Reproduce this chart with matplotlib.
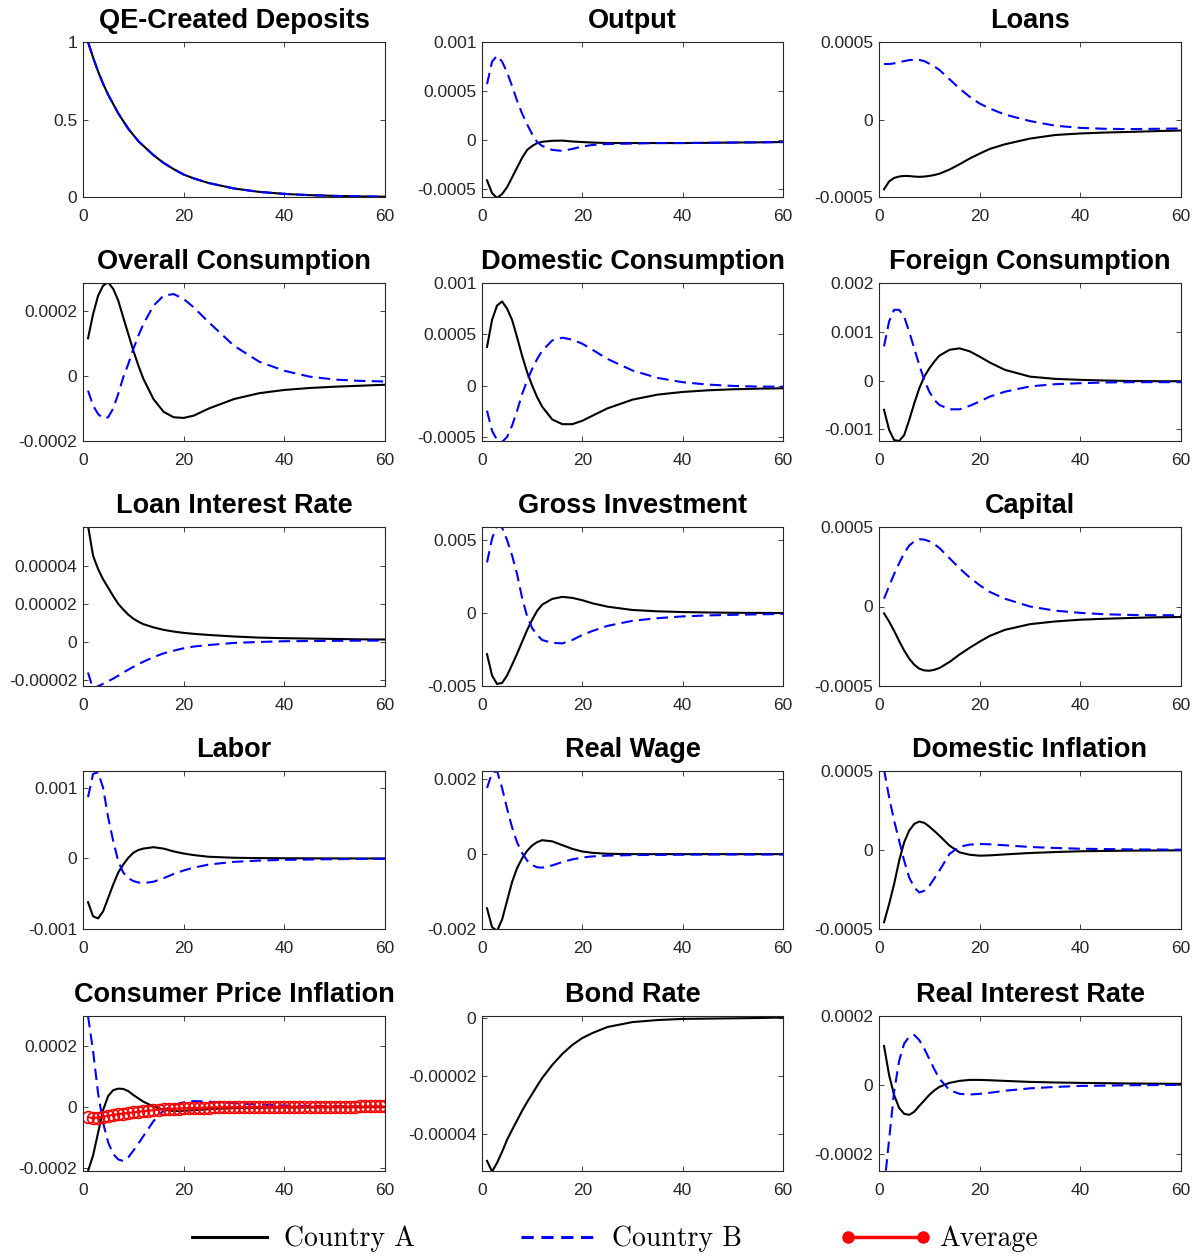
import numpy as np
import matplotlib
matplotlib.use("Agg")
import matplotlib.pyplot as plt
from matplotlib.lines import Line2D

plt.rcParams['font.family'] = ['Liberation Sans', 'DejaVu Sans']

t = [1, 2, 3, 4, 5, 6, 7, 8, 9, 10, 11, 12, 14, 16, 18, 20, 22, 25, 30, 35, 40, 45, 50, 55, 60]

qe_dep = [1.0, 0.90, 0.81, 0.73, 0.66, 0.60, 0.54, 0.49, 0.44, 0.40, 0.36, 0.33, 0.27, 0.22,
          0.18, 0.145, 0.12, 0.09, 0.055, 0.033, 0.02, 0.012, 0.007, 0.004, 0.002]

output_a = [-4.1e-4, -5.4e-4, -5.9e-4, -5.5e-4, -4.8e-4, -3.8e-4, -2.8e-4, -1.8e-4, -1.0e-4, -6e-5,
            -3e-5, -1.7e-5, -7e-6, -5e-6, -1.4e-5, -2e-5, -2.5e-5, -3e-5, -3e-5, -3e-5, -3e-5,
            -2.8e-5, -2.5e-5, -2.3e-5, -2e-5]
output_b = [5.7e-4, 8.0e-4, 8.6e-4, 8.0e-4, 6.9e-4, 5.5e-4, 4.0e-4, 2.7e-4, 1.6e-4, 6e-5, -2e-5,
            -6e-5, -1.0e-4, -1.1e-4, -9e-5, -6.5e-5, -5e-5, -4e-5, -3.5e-5, -3e-5, -3e-5, -2.8e-5,
            -2.5e-5, -2.3e-5, -2e-5]

loans_a = [-4.5e-4, -4.0e-4, -3.77e-4, -3.68e-4, -3.64e-4, -3.65e-4, -3.68e-4, -3.7e-4, -3.68e-4,
           -3.64e-4, -3.58e-4, -3.5e-4, -3.23e-4, -2.89e-4, -2.52e-4, -2.2e-4, -1.9e-4, -1.6e-4,
           -1.23e-4, -1.0e-4, -9e-5, -8.4e-5, -8e-5, -7.5e-5, -7.1e-5]
loans_b = [3.58e-4, 3.58e-4, 3.62e-4, 3.7e-4, 3.77e-4, 3.83e-4, 3.86e-4, 3.84e-4, 3.77e-4, 3.6e-4,
           3.42e-4, 3.2e-4, 2.6e-4, 2.0e-4, 1.47e-4, 1.03e-4, 7.1e-5, 3.2e-5, -1e-5, -4e-5,
           -5.4e-5, -6e-5, -6.2e-5, -6e-5, -5.8e-5]

cons_a = [1.16e-4, 1.9e-4, 2.47e-4, 2.78e-4, 2.88e-4, 2.68e-4, 2.32e-4, 1.8e-4, 1.29e-4, 7.8e-5,
          3.2e-5, -9e-6, -7.1e-5, -1.1e-4, -1.27e-4, -1.29e-4, -1.22e-4, -1.0e-4, -7.1e-5,
          -5.3e-5, -4.3e-5, -3.7e-5, -3.3e-5, -3e-5, -2.7e-5]
cons_b = [-4.5e-5, -9.1e-5, -1.17e-4, -1.3e-4, -1.27e-4, -1.0e-4, -5.5e-5, -4e-6, 3.7e-5, 8.3e-5,
          1.24e-4, 1.6e-4, 2.16e-4, 2.47e-4, 2.52e-4, 2.37e-4, 2.11e-4, 1.65e-4, 9.3e-5, 4.4e-5,
          1.6e-5, -2e-6, -1.1e-5, -1.5e-5, -1.7e-5]

dcons_a = [3.76e-4, 6.4e-4, 7.8e-4, 8.2e-4, 7.5e-4, 6.4e-4, 4.7e-4, 2.9e-4, 1.3e-4, 0.0, -1.14e-4,
           -2.06e-4, -3.3e-4, -3.76e-4, -3.76e-4, -3.43e-4, -2.94e-4, -2.22e-4, -1.37e-4, -8.8e-5,
           -6.2e-5, -4.6e-5, -3.6e-5, -3e-5, -2.6e-5]
dcons_b = [-2.45e-4, -4.4e-4, -5.3e-4, -5.5e-4, -5.0e-4, -3.9e-4, -2.45e-4, -8.2e-5, 4.9e-5,
           1.63e-4, 2.6e-4, 3.4e-4, 4.4e-4, 4.67e-4, 4.48e-4, 4.08e-4, 3.5e-4, 2.6e-4, 1.47e-4,
           7.5e-5, 3.3e-5, 1e-5, -3e-6, -1e-5, -1e-5]

fcons_a = [-6e-4, -1.01e-3, -1.22e-3, -1.24e-3, -1.12e-3, -8.1e-4, -4.7e-4, -1.6e-4, 8e-5, 2.5e-4,
           3.9e-4, 5.1e-4, 6.3e-4, 6.6e-4, 6.0e-4, 4.9e-4, 3.7e-4, 2.2e-4, 8e-5, 3.4e-5, 1.4e-5,
           0.0, -1e-5, -1.4e-5, -1.4e-5]
fcons_b = [7e-4, 1.21e-3, 1.45e-3, 1.45e-3, 1.31e-3, 1.0e-3, 6.6e-4, 3.2e-4, 1e-5, -2.3e-4,
           -4.0e-4, -5.0e-4, -5.9e-4, -5.9e-4, -5.2e-4, -4.3e-4, -3.3e-4, -2.3e-4, -1.2e-4,
           -7.5e-5, -5.5e-5, -4e-5, -3.4e-5, -3.4e-5, -3.4e-5]

loanrate_a = [6.1e-5, 4.53e-5, 3.82e-5, 3.28e-5, 2.84e-5, 2.4e-5, 1.99e-5, 1.69e-5, 1.42e-5,
              1.21e-5, 1.05e-5, 9.2e-6, 7.5e-6, 6.2e-6, 5.3e-6, 4.6e-6, 4.1e-6, 3.5e-6, 2.7e-6,
              2.1e-6, 1.8e-6, 1.6e-6, 1.4e-6, 1.2e-6, 1.1e-6]
loanrate_b = [-1.63e-5, -2.5e-5, -2.35e-5, -2.22e-5, -2.09e-5, -1.95e-5, -1.8e-5, -1.63e-5,
              -1.48e-5, -1.33e-5, -1.19e-5, -1.06e-5, -8.2e-6, -6.2e-6, -4.8e-6, -3.5e-6, -2.6e-6,
              -1.8e-6, -7e-7, -2e-7, 2e-7, 3e-7, 4e-7, 5e-7, 5e-7]

invest_a = [-2.82e-3, -4.28e-3, -4.86e-3, -4.79e-3, -4.28e-3, -3.54e-3, -2.78e-3, -1.97e-3,
            -1.16e-3, -4.6e-4, 1.6e-4, 5.8e-4, 9.7e-4, 1.11e-3, 1.04e-3, 8.8e-4, 6.7e-4, 4.4e-4,
            2.1e-4, 1.2e-4, 7e-5, 4e-5, 2e-5, 1e-5, 0.0]
invest_b = [3.47e-3, 5.1e-3, 6.0e-3, 5.86e-3, 5.0e-3, 3.94e-3, 2.66e-3, 1.04e-3, -2.3e-4, -1.04e-3,
            -1.5e-3, -1.85e-3, -2.04e-3, -2.08e-3, -1.85e-3, -1.5e-3, -1.23e-3, -8.8e-4, -5.3e-4,
            -3.5e-4, -2.3e-4, -1.6e-4, -1.2e-4, -9e-5, -6e-5]

capital_a = [-4.3e-5, -9.4e-5, -1.53e-4, -2.17e-4, -2.77e-4, -3.28e-4, -3.66e-4, -3.91e-4,
             -4.02e-4, -4.04e-4, -3.98e-4, -3.87e-4, -3.49e-4, -3.02e-4, -2.6e-4, -2.21e-4,
             -1.85e-4, -1.47e-4, -1.11e-4, -9.4e-5, -8.3e-5, -7.7e-5, -7.2e-5, -6.8e-5, -6.6e-5]
capital_b = [4.9e-5, 1.28e-4, 2.04e-4, 2.72e-4, 3.36e-4, 3.83e-4, 4.1e-4, 4.23e-4, 4.21e-4, 4.1e-4,
             3.92e-4, 3.68e-4, 3.04e-4, 2.4e-4, 1.83e-4, 1.34e-4, 9.2e-5, 4.9e-5, 0.0, -2.6e-5,
             -4e-5, -4.9e-5, -5.3e-5, -5.5e-5, -5.5e-5]

labor_a = [-6.2e-4, -8.2e-4, -8.5e-4, -7.5e-4, -5.6e-4, -3.7e-4, -2.0e-4, -8.6e-5, 1e-5, 8e-5,
           1.2e-4, 1.4e-4, 1.6e-4, 1.4e-4, 1.0e-4, 7e-5, 4.8e-5, 2.4e-5, 1e-5, 5e-6, 3e-6, 2e-6,
           1e-6, 0.0, 0.0]
labor_b = [8.7e-4, 1.2e-3, 1.22e-3, 1.0e-3, 5.8e-4, 2.5e-4, -4e-5, -2.0e-4, -2.8e-4, -3.2e-4,
           -3.4e-4, -3.5e-4, -3.3e-4, -2.8e-4, -2.2e-4, -1.7e-4, -1.3e-4, -8.6e-5, -4.8e-5, -3e-5,
           -2e-5, -1.5e-5, -1e-5, -7e-6, -5e-6]

wage_a = [-1.45e-3, -1.95e-3, -2.05e-3, -1.75e-3, -1.25e-3, -7.5e-4, -3.8e-4, -1.2e-4, 8e-5,
          2.2e-4, 3.1e-4, 3.6e-4, 3.3e-4, 2.3e-4, 1.3e-4, 6e-5, 2.5e-5, 0.0, -1e-5, -1e-5, -1e-5,
          -1e-5, -1e-5, -1e-5, -1e-5]
wage_b = [1.75e-3, 2.15e-3, 2.2e-3, 1.75e-3, 1.2e-3, 7e-4, 3e-4, 2e-5, -1.8e-4, -3e-4, -3.6e-4,
          -3.7e-4, -3.1e-4, -2.2e-4, -1.5e-4, -1e-4, -7e-5, -5e-5, -3.5e-5, -3e-5, -2.5e-5, -2e-5,
          -2e-5, -2e-5, -2e-5]

dinfl_a = [-4.57e-4, -3.43e-4, -2.16e-4, -6.8e-5, 4.9e-5, 1.23e-4, 1.65e-4, 1.8e-4, 1.72e-4,
           1.48e-4, 1.2e-4, 9.1e-5, 2.8e-5, -1.5e-5, -3e-5, -3.6e-5, -3.4e-5, -2.8e-5, -1.9e-5,
           -1.3e-5, -8e-6, -6e-6, -4e-6, -3e-6, -2e-6]
dinfl_b = [5.1e-4, 3.35e-4, 1.86e-4, 5.9e-5, -6.8e-5, -1.74e-4, -2.37e-4, -2.69e-4, -2.58e-4,
           -2.27e-4, -1.8e-4, -1.31e-4, -2.5e-5, 2.1e-5, 3.4e-5, 3.8e-5, 3.6e-5, 3e-5, 1.9e-5,
           1.3e-5, 8e-6, 6e-6, 4e-6, 3e-6, 2e-6]

cpi_a = [-2.1e-4, -1.59e-4, -8.4e-5, -9e-6, 3.7e-5, 5.6e-5, 6.1e-5, 6.0e-5, 5.3e-5, 4.0e-5, 2.9e-5,
         1.8e-5, 2e-6, -8.6e-6, -1.3e-5, -1.2e-5, -1.0e-5, -6.5e-6, -3e-6, -2e-6, -1e-6, -1e-6,
         0.0, 0.0, 0.0]
cpi_b = [3.0e-4, 1.85e-4, 4.5e-5, -5.2e-5, -1.16e-4, -1.54e-4, -1.72e-4, -1.77e-4, -1.65e-4,
         -1.43e-4, -1.2e-4, -9.5e-5, -4.6e-5, -1.1e-5, 7.5e-6, 1.6e-5, 2.0e-5, 1.8e-5, 1.3e-5,
         8.6e-6, 5.4e-6, 4e-6, 3e-6, 2.5e-6, 2e-6]

# the average series is marked at every period 1..60
t_avg = list(range(1, 61))
cpi_avg = [-3.3e-5, -3.6e-5, -3.4e-5, -3.1e-5, -2.8e-5, -2.5e-5, -2.3e-5, -2.1e-5, -1.9e-5, -1.7e-5,
           -1.5e-5, -1.3e-5, -1.15e-5, -1.0e-5, -8.5e-6, -7.3e-6, -6.2e-6, -5.2e-6, -4.4e-6, -3.6e-6,
           -3.0e-6, -2.4e-6, -1.9e-6, -1.5e-6, -1.1e-6, -8e-7, -5e-7, -3e-7, -1e-7, 1e-7,
           2e-7, 4e-7, 5e-7, 6e-7, 7e-7, 8e-7, 9e-7, 1.0e-6, 1.1e-6, 1.2e-6,
           1.3e-6, 1.4e-6, 1.5e-6, 1.6e-6, 1.7e-6, 1.8e-6, 1.8e-6, 1.9e-6, 2.0e-6, 2.0e-6,
           2.1e-6, 2.1e-6, 2.2e-6, 2.2e-6, 2.3e-6, 2.3e-6, 2.4e-6, 2.4e-6, 2.5e-6, 2.5e-6]

bond_rate = [-4.93e-5, -5.3e-5, -5.0e-5, -4.62e-5, -4.2e-5, -3.86e-5, -3.53e-5, -3.2e-5, -2.9e-5,
             -2.62e-5, -2.34e-5, -2.07e-5, -1.62e-5, -1.24e-5, -9.3e-6, -6.9e-6, -5.2e-6, -3.1e-6,
             -1.4e-6, -7e-7, -3e-7, -2e-7, -1e-7, 0.0, 2e-7]

rir_a = [1.13e-4, 2.9e-5, -2.9e-5, -6.7e-5, -8.4e-5, -8.7e-5, -7.8e-5, -6.1e-5, -4.5e-5, -2.9e-5,
         -1.6e-5, -5.8e-6, 5.8e-6, 1.16e-5, 1.45e-5, 1.45e-5, 1.35e-5, 1.16e-5, 8.7e-6, 7e-6,
         5.8e-6, 5e-6, 4e-6, 3.5e-6, 3e-6]
rir_b = [-3.0e-4, -1.6e-4, -2e-5, 7e-5, 1.2e-4, 1.4e-4, 1.45e-4, 1.3e-4, 1.05e-4, 7.5e-5, 4.5e-5,
         1.8e-5, -1.5e-5, -2.6e-5, -2.8e-5, -2.6e-5, -2.3e-5, -1.7e-5, -1.0e-5, -6e-6, -3e-6,
         -2e-6, -1e-6, -5e-7, 0.0]

titles = ['QE-Created Deposits', 'Output', 'Loans',
          'Overall Consumption', 'Domestic Consumption', 'Foreign Consumption',
          'Loan Interest Rate', 'Gross Investment', 'Capital',
          'Labor', 'Real Wage', 'Domestic Inflation',
          'Consumer Price Inflation', 'Bond Rate', 'Real Interest Rate']
series_a = [qe_dep, output_a, loans_a, cons_a, dcons_a, fcons_a, loanrate_a, invest_a, capital_a,
            labor_a, wage_a, dinfl_a, cpi_a, bond_rate, rir_a]
series_b = [qe_dep, output_b, loans_b, cons_b, dcons_b, fcons_b, loanrate_b, invest_b, capital_b,
            labor_b, wage_b, dinfl_b, cpi_b, None, rir_b]
ylims = [(0, 1), (-0.00058, 0.001), (-0.0005, 0.0005),
         (-0.0002, 0.000286), (-0.00054, 0.001), (-0.00124, 0.002),
         (-0.0000234, 0.0000604), (-0.005, 0.0059), (-0.0005, 0.0005),
         (-0.001, 0.00124), (-0.002, 0.0022), (-0.0005, 0.0005),
         (-0.00021, 0.0003), (-0.0000528, 0.0000007), (-0.00025, 0.0002)]
yticks = [[0, 0.5, 1], [-0.0005, 0, 0.0005, 0.001], [-0.0005, 0, 0.0005],
          [-0.0002, 0, 0.0002], [-0.0005, 0, 0.0005, 0.001], [-0.001, 0, 0.001, 0.002],
          [-0.00002, 0, 0.00002, 0.00004], [-0.005, 0, 0.005], [-0.0005, 0, 0.0005],
          [-0.001, 0, 0.001], [-0.002, 0, 0.002], [-0.0005, 0, 0.0005],
          [-0.0002, 0, 0.0002], [-0.00004, -0.00002, 0], [-0.0002, 0, 0.0002]]
xticks = [0, 20, 40, 60]

W, H = 1198, 1256
fig = plt.figure(figsize=(W / 100, H / 100), dpi=100)

# axes boxes in pixels (left, width) per column and (top, bottom) per row
col_px = [(83, 302), (482, 301), (879, 302)]
row_px = [(42, 197), (283, 441), (527, 686), (771, 929), (1016, 1171)]

for i in range(15):
    r, c = divmod(i, 3)
    left, width = col_px[c]
    top, bottom = row_px[r]
    ax = fig.add_axes([left / W, 1 - bottom / H, width / W, (bottom - top) / H])

    ax.plot(t, series_a[i], color='black', lw=1.5, solid_joinstyle='round')
    if series_b[i] is not None:
        ax.plot(t, series_b[i], color='blue', lw=1.5, dashes=(5.5, 3))
    if i == 12:
        ax.plot(t_avg, cpi_avg, color='red', lw=1.5, marker='o', markersize=8.5,
                markerfacecolor='none', markeredgewidth=1.2)

    ax.set_xlim(0, 60)
    ax.set_ylim(*ylims[i])
    ax.set_xticks(xticks)
    ax.set_yticks(yticks[i])
    ax.set_yticklabels([np.format_float_positional(v, trim='-') for v in yticks[i]])
    ax.tick_params(direction='in', length=3.5, width=0.6, top=True, right=True,
                   labelsize=12.5, labelcolor='0.15', color='0.15')
    ax.tick_params(axis='x', pad=8.5)
    ax.tick_params(axis='y', pad=4)
    for s in ax.spines.values():
        s.set_color('0.15')
        s.set_linewidth(0.8)
    ax.set_title(titles[i], fontsize=19.5, fontweight='bold', pad=10)

handles = [Line2D([], [], color='black', lw=2.2),
           Line2D([], [], color='blue', lw=2.2, dashes=(4, 2.5)),
           Line2D([], [], color='red', lw=2.5, marker='o', markersize=8, markerfacecolor='red')]
fig.legend(handles, ['Country A', 'Country B', 'Average'], loc='center', ncol=3,
           bbox_to_anchor=(611 / W, 1 - 1239 / H), frameon=False, numpoints=2,
           prop={'family': 'cmr10', 'size': 20}, handlelength=3.3, handletextpad=0.3,
           columnspacing=3.5)

fig.savefig('out.png', dpi=100)
